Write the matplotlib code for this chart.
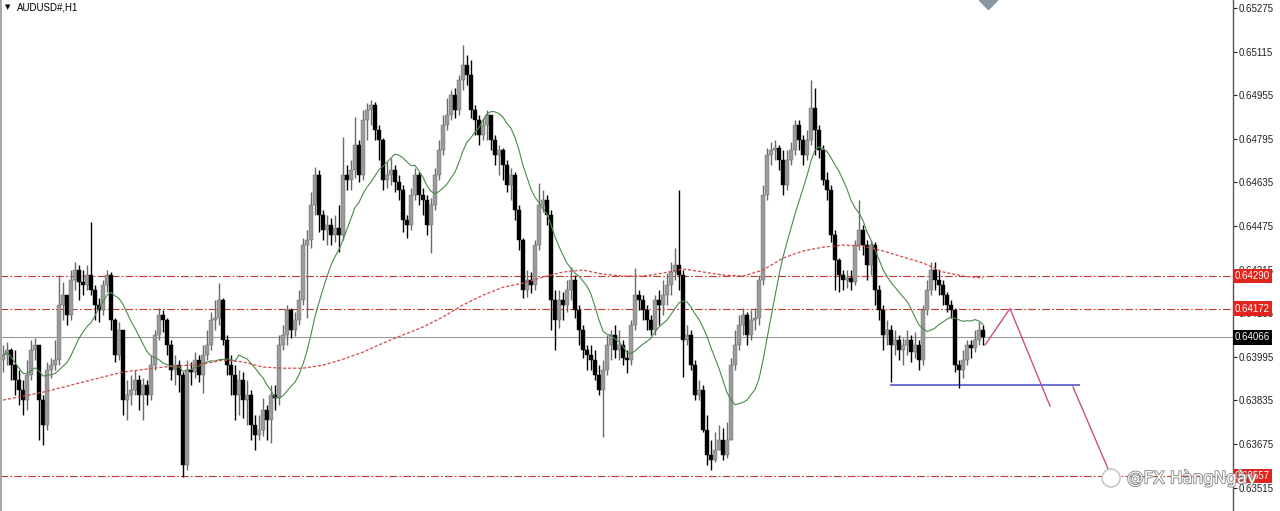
import numpy as np
import pandas as pd
import matplotlib
matplotlib.use("Agg")
import matplotlib.pyplot as plt
import matplotlib.patheffects as pe
from matplotlib.patches import Rectangle, Ellipse

plt.rcParams['font.family'] = ['Liberation Sans', 'DejaVu Sans']

# AUDUSD H1, prices in points above 0.60000 (1 point = 0.00001)
base = 0.6
first_open = 3983
closes = [
    4001, 4020, 3964, 3909, 3873, 3836, 3928, 4020, 4038, 3836,
    3744, 3946, 3964, 3983, 4185, 4221, 4148, 4276, 4313, 4269,
    4258, 4295, 4240, 4185, 4166, 4258, 4295, 4130, 4001, 4093,
    3836, 3854, 3873, 3909, 3854, 3891, 3854, 3964, 4075, 4148,
    4130, 4038, 3946, 3964, 3928, 3598, 3946, 3939, 3983, 3928,
    4001, 4038, 4130, 4137, 4203, 4056, 3964, 3928, 3854, 3909,
    3836, 3854, 3744, 3707, 3726, 3799, 3763, 3854, 3843, 4038,
    4075, 4166, 4093, 4130, 4203, 4405, 4423, 4552, 4662, 4515,
    4460, 4478, 4442, 4467, 4442, 4662, 4643, 4680, 4772, 4662,
    4864, 4900, 4919, 4827, 4790, 4643, 4662, 4680, 4636, 4607,
    4497, 4478, 4588, 4662, 4588, 4570, 4478, 4552, 4662, 4754,
    4845, 4882, 4955, 4900, 5010, 5065, 5029, 4900, 4864, 4808,
    4845, 4882, 4790, 4735, 4754, 4698, 4625, 4662, 4533, 4423,
    4240, 4276, 4258, 4405, 4552, 4570, 4515, 4203, 4130, 4203,
    4185, 4240, 4276, 4166, 4093, 4020, 4001, 3983, 3928, 3873,
    3946, 4038, 4075, 4020, 4038, 3990, 3983, 4111, 4221, 4203,
    4166, 4130, 4093, 4203, 4185, 4221, 4258, 4306, 4331, 4295,
    4056, 4075, 3964, 3854, 3873, 3726, 3634, 3616, 3653, 3689,
    3634, 3689, 3964, 4038, 4111, 4148, 4075, 4130, 4137, 4276,
    4588, 4735, 4754, 4761, 4717, 4625, 4717, 4754, 4845, 4790,
    4735, 4790, 4908, 4827, 4754, 4643, 4607, 4442, 4350, 4295,
    4276, 4284, 4269, 4405, 4460, 4405, 4331, 4405, 4240, 4166,
    4075, 4093, 4038, 4056, 4020, 4038, 4056, 4012, 4038, 3983,
    4166, 4240, 4313, 4276, 4258, 4221, 4185, 4166, 3964, 3946,
    3983, 4038, 4027, 4056, 4093, 4066,
]
highs = [
    4038, 4049, 4027, 4020, 3946, 3909, 3983, 4056, 4063, 4038,
    3854, 3976, 3990, 4056, 4295, 4269, 4221, 4313, 4343, 4331,
    4313, 4331, 4490, 4258, 4210, 4276, 4313, 4306, 4137, 4123,
    4093, 3909, 3928, 3946, 3928, 3917, 3909, 4001, 4093, 4174,
    4166, 4137, 4056, 4001, 3983, 3939, 3983, 3976, 4012, 4001,
    4038, 4093, 4159, 4203, 4265, 4210, 4075, 4001, 3964, 3946,
    3939, 3909, 3873, 3781, 3781, 3843, 3818, 3891, 3891, 4075,
    4111, 4185, 4174, 4159, 4240, 4431, 4460, 4599, 4691, 4680,
    4533, 4515, 4504, 4515, 4552, 4801, 4698, 4717, 4875, 4790,
    4900, 4926, 4937, 4930, 4845, 4797, 4709, 4724, 4698, 4662,
    4625, 4515, 4614, 4687, 4673, 4614, 4588, 4577, 4687, 4790,
    4882, 4944, 4974, 4981, 5029, 5139, 5102, 5084, 4919, 4882,
    4871, 4900, 4882, 4808, 4772, 4761, 4717, 4687, 4673, 4552,
    4431, 4313, 4306, 4423, 4632, 4607, 4588, 4533, 4240, 4240,
    4232, 4276, 4324, 4295, 4185, 4111, 4038, 4038, 4020, 3964,
    3983, 4075, 4093, 4111, 4093, 4056, 4020, 4130, 4320, 4240,
    4221, 4185, 4148, 4221, 4240, 4276, 4302, 4343, 4394, 4607,
    4313, 4111, 4093, 3983, 3909, 3891, 3781, 3689, 3718, 3744,
    3733, 3755, 3990, 4093, 4148, 4174, 4159, 4166, 4174, 4295,
    4625, 4761, 4783, 4790, 4772, 4754, 4754, 4783, 4864, 4864,
    4808, 4827, 5010, 4981, 4845, 4772, 4673, 4625, 4460, 4357,
    4313, 4313, 4313, 4423, 4570, 4478, 4423, 4423, 4416, 4258,
    4185, 4130, 4111, 4093, 4075, 4063, 4093, 4075, 4086, 4056,
    4185, 4276, 4343, 4343, 4313, 4276, 4232, 4203, 4174, 3983,
    4020, 4056, 4056, 4093, 4123, 4111,
]
lows = [
    3939, 3964, 3909, 3854, 3818, 3781, 3799, 3909, 3983, 3689,
    3671, 3726, 3917, 3946, 3964, 4130, 4111, 4130, 4240, 4203,
    4221, 4240, 4221, 4130, 4123, 4148, 4233, 4093, 3976, 3983,
    3781, 3763, 3818, 3854, 3799, 3763, 3818, 3836, 3946, 4056,
    4086, 4001, 3909, 3891, 3866, 3554, 3579, 3891, 3917, 3902,
    3862, 3983, 4020, 4093, 4111, 4038, 3928, 3854, 3763, 3781,
    3770, 3744, 3689, 3653, 3689, 3704, 3689, 3678, 3799, 3818,
    4020, 4038, 4063, 4071, 4111, 4185, 4137, 4394, 4515, 4453,
    4423, 4405, 4405, 4416, 4379, 4423, 4607, 4607, 4651, 4636,
    4643, 4790, 4845, 4790, 4717, 4607, 4614, 4625, 4599, 4570,
    4453, 4431, 4460, 4570, 4552, 4515, 4442, 4376, 4533, 4643,
    4735, 4827, 4864, 4871, 4882, 4974, 4992, 4871, 4808, 4772,
    4790, 4790, 4754, 4698, 4662, 4643, 4599, 4570, 4497, 4386,
    4210, 4214, 4229, 4240, 4386, 4526, 4478, 4093, 4020, 4101,
    4130, 4159, 4203, 4137, 4038, 3990, 3946, 3946, 3909, 3854,
    3700, 3928, 3983, 3990, 3983, 3964, 3935, 3964, 4093, 4166,
    4130, 4093, 4075, 4075, 4111, 4148, 4185, 4221, 4276, 4240,
    3921, 4038, 3946, 3836, 3836, 3720, 3598, 3579, 3609, 3653,
    3616, 3623, 3707, 3946, 4020, 4075, 4038, 4056, 4093, 4111,
    4258, 4570, 4698, 4717, 4680, 4588, 4607, 4698, 4735, 4754,
    4698, 4717, 4772, 4735, 4724, 4625, 4570, 4416, 4240, 4233,
    4240, 4247, 4240, 4258, 4386, 4368, 4276, 4295, 4185, 4130,
    4020, 4038, 3902, 4001, 3983, 3964, 4001, 3976, 3990, 3946,
    3964, 4148, 4221, 4240, 4221, 4185, 4159, 4137, 3939, 3880,
    3917, 3964, 3990, 4012, 4038, 4038,
]

# slow moving average (red dotted) at some bars
slow_ma_bars = [0, 10, 20, 30, 40, 50, 55, 60, 65, 70, 75, 80, 85, 90, 95, 100,
                105, 110, 115, 120, 125, 130, 135, 140, 145, 150, 155, 160, 165,
                170, 175, 180, 185, 190, 195, 200, 205, 210, 215, 220, 225, 230,
                235, 240, 245]
slow_ma = [3836, 3865, 3902, 3939, 3957, 3968, 3983, 3976, 3957, 3953, 3953,
           3964, 3986, 4012, 4045, 4075, 4104, 4141, 4185, 4221, 4250, 4265,
           4287, 4306, 4313, 4298, 4291, 4291, 4302, 4317, 4306, 4295, 4291,
           4313, 4357, 4383, 4397, 4405, 4401, 4383, 4361, 4339, 4306, 4291,
           4284]

# horizontal levels
levels = [0.64290, 0.64172, 0.63557]
bid = 0.64066
support = 0.63891
support_bars = [222, 269]
# hand drawn projection (bar, price)
path1_bars = [245.5, 251.75, 261.75]
path1_price = [0.64038, 0.64172, 0.63814]
path2_bars = [267.5, 277.25]
path2_price = [0.63884, 0.63550]

y_ticks = [0.63515, 0.63675, 0.63835, 0.63995, 0.64155, 0.64315, 0.64475,
           0.64635, 0.64795, 0.64955, 0.65115, 0.65275]

c = base + np.array(closes) / 1e5
h = base + np.array(highs) / 1e5
l = base + np.array(lows) / 1e5
o = np.r_[base + first_open / 1e5, c[:-1]]
h = np.maximum(h, np.maximum(o, c))
l = np.minimum(l, np.minimum(o, c))
idx = np.arange(len(c))
up = c >= o

fast_ma = pd.Series(c).rolling(14, min_periods=1).mean()

fig = plt.figure(figsize=(12.8, 5.11), dpi=100)
ax = fig.add_axes([0, 0, 1233 / 1280, 1])
ax.set_xlim(-0.75, 307.5)
ax.set_ylim(0.63429, 0.65304)

for s in ['left', 'top', 'bottom']:
    ax.spines[s].set_visible(False)
ax.spines['right'].set_color('#555555')
ax.spines['right'].set_linewidth(1)
ax.set_xticks([])
ax.yaxis.tick_right()
ax.set_yticks(y_ticks)
ax.set_yticklabels([f"{t:.5f}" for t in y_ticks])
ax.tick_params(axis='y', length=3, width=0.8, pad=1, labelsize=7,
               colors='#222222')

# levels
for lv in levels:
    ax.axhline(lv, color='#c0392b', lw=0.8, dashes=[7, 2, 1.5, 2], zorder=1)
ax.axhline(bid, color='#9a9a9a', lw=0.8, zorder=1)
ax.plot(support_bars, [support, support], color='#6f6fd0', lw=1.4, zorder=2)

# candles
wick_col = np.where(up, '#6a6a6a', '#000000')
body_col = np.where(up, '#9a9a9a', '#000000')
ax.vlines(idx, l, h, colors=wick_col, lw=1, zorder=3)
body = np.maximum(np.abs(c - o), 0.00002)
ax.bar(idx, body, bottom=np.minimum(o, c), width=0.78, color=body_col,
       edgecolor=wick_col, lw=0.3, zorder=4)

# moving averages
ax.plot(idx, fast_ma, color='#4a8a4a', lw=0.8, zorder=5)
ax.plot(slow_ma_bars, base + np.array(slow_ma) / 1e5, color='#d24a4a',
        lw=0.9, dashes=[2.5, 1.5], zorder=5)

# projection lines
ax.plot(path1_bars, path1_price, color='#cc4f86', lw=1, zorder=5)
ax.plot(path2_bars, path2_price, color='#cc4f86', lw=1, zorder=5)

# object marker at top
ax.plot([246.25], [0.65304], marker='D', color='#8a96a3', markersize=9, zorder=6)

# price labels on the scale
tr = ax.get_yaxis_transform()
for lv in levels:
    ax.text(1.0015, lv, f"{lv:.5f}", transform=tr, ha='left', va='center',
            fontsize=7, color='white', clip_on=False, zorder=10,
            bbox=dict(boxstyle='square,pad=0.22', fc='#e3241c', ec='none'))
ax.text(1.0015, bid, f"{bid:.5f}", transform=tr, ha='left', va='center',
        fontsize=7, color='white', clip_on=False, zorder=10,
        bbox=dict(boxstyle='square,pad=0.22', fc='#000000', ec='none'))

# title
fig.text(5 / 1280, 1 - 7 / 511, "▼", fontsize=5, va='center', ha='left',
         family='DejaVu Sans')
fig.text(17 / 1280, 1 - 7 / 511, "AUDUSD#,H1", fontsize=7, va='center', ha='left')

# window border on the left
fig.add_artist(Rectangle((0, 0), 2 / 1280, 1, transform=fig.transFigure,
                         color='#a8a8a8', lw=0))

# watermark
fig.add_artist(Ellipse((1111 / 1280, 1 - 478 / 511), 18 / 1280, 18 / 511,
                       transform=fig.transFigure, fc='white', ec='#c8c8c8',
                       lw=1.2, zorder=20))
fig.text(1127 / 1280, 1 - 478 / 511, "@FX HàngNgày", fontsize=12,
         va='center', ha='left', color='white', zorder=21, family='DejaVu Sans',
         path_effects=[pe.withStroke(linewidth=1.3, foreground='#8a8a8a')])

fig.savefig("out.png", dpi=100, facecolor='white')
